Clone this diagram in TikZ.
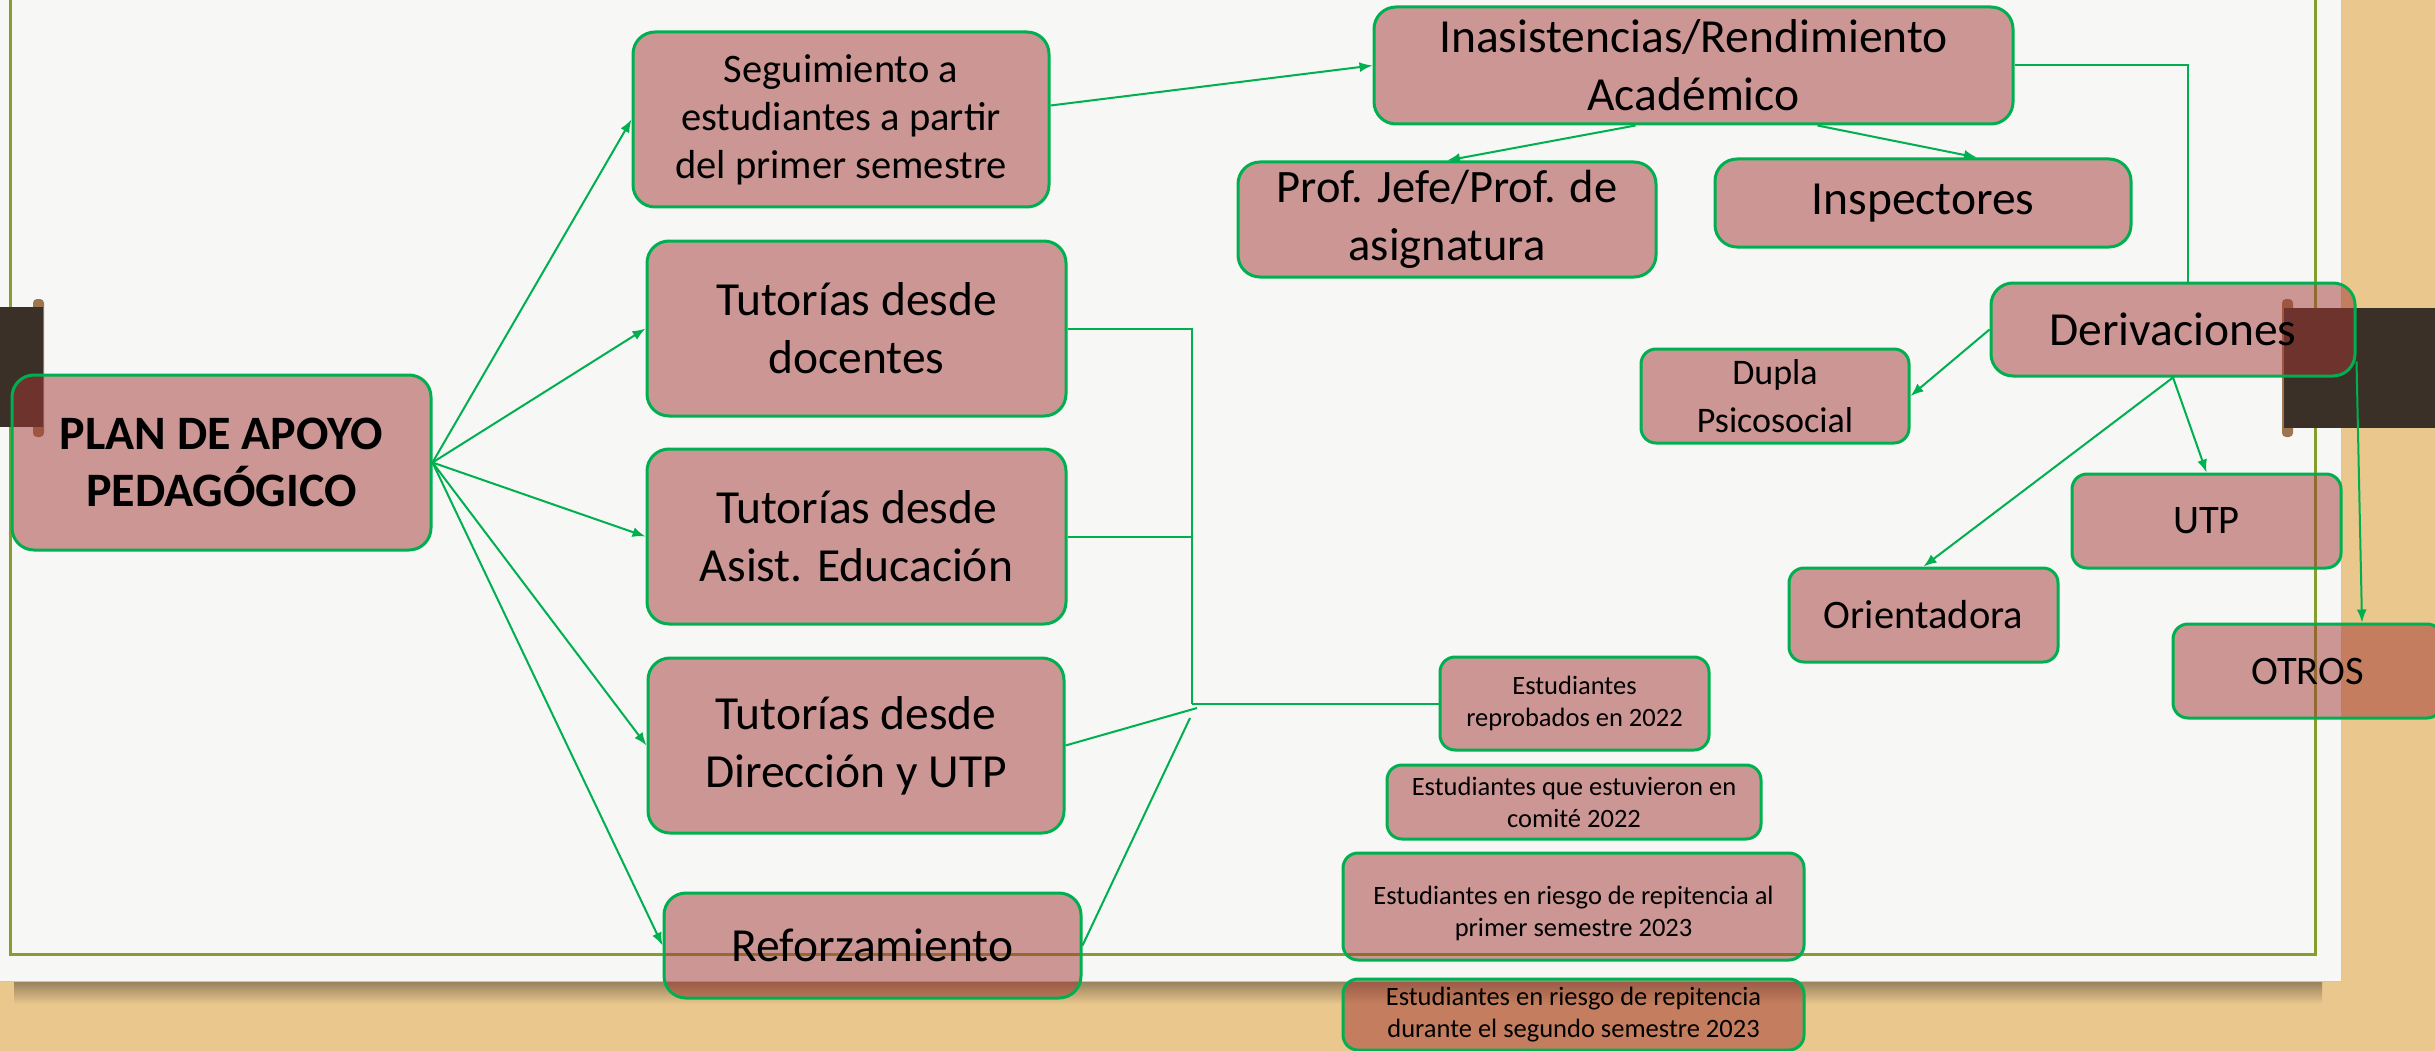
\documentclass[tikz,border=0pt]{standalone}
\usepackage{fontspec}
\setmainfont{Carlito}
\usetikzlibrary{arrows.meta,calc}
\definecolor{wood}{RGB}{233,199,141}
\definecolor{paper}{RGB}{247,247,246}
\definecolor{frameol}{RGB}{134,158,46}
\definecolor{gline}{RGB}{0,176,80}
\definecolor{boxfill}{RGB}{161,55,50}
\definecolor{tabdark}{RGB}{58,48,39}
\definecolor{tabcap}{RGB}{156,118,80}
\definecolor{shadowc}{RGB}{150,128,92}
\begin{document}
\begin{tikzpicture}[x=1pt,y=-1pt,
  box/.style={draw=gline, line width=3pt, fill=boxfill, fill opacity=0.5, text opacity=1,
    rounded corners=22pt, inner sep=0pt, align=center, text=black},
  sbox/.style={box, rounded corners=15pt},
  big/.style={font=\fontsize{47.5}{58}\selectfont},
  mid/.style={font=\fontsize{40.5}{48}\selectfont},
  small/.style={font=\fontsize{26.5}{32}\selectfont},
  conn/.style={draw=gline, line width=2pt},
  arr/.style={conn, -{Latex[length=13pt,width=10pt]}}
]
\useasboundingbox (0,0) rectangle (2435,1051);
\clip (0,0) rectangle (2435,1051);
% background
\fill[wood] (0,0) rectangle (2435,1051);
\shade[top color=shadowc, bottom color=wood] (14,981) rectangle (2322,1004);
\fill[paper] (0,-2) rectangle (2341,981);
\draw[black!22, line width=1pt] (0,981) -- (2341,981) -- (2341,-2);
\draw[frameol, line width=3pt] (10,-5) -- (10,954) -- (2315,954) -- (2315,-5);
% binder tabs
\fill[tabcap, rounded corners=4pt] (33,299) rectangle (44,437);
\fill[tabdark] (0,307) rectangle (43,427);
\fill[tabcap, rounded corners=4pt] (2282,299) rectangle (2293,437);
\fill[tabdark] (2284,308) rectangle (2435,428);

% nodes
\node[box, font=\fontsize{48}{57}\selectfont\bfseries, minimum width=419pt, minimum height=175pt] (plan) at (221.5,462.5) {PLAN DE APOYO\\PEDAGÓGICO};
\node[box, mid, minimum width=416pt, minimum height=175pt] (seg) at (841,119.5) {Seguimiento a\\estudiantes a partir\\del primer semestre};
\node[box, big, minimum width=419pt, minimum height=175pt] (doc) at (856.5,328.5) {Tutorías desde\\docentes};
\node[box, big, minimum width=419pt, minimum height=175pt] (asi) at (856.5,536.5) {Tutorías desde\\Asist. Educación};
\node[box, big, minimum width=416pt, minimum height=175pt] (dir) at (856,745.5) {Tutorías desde\\Dirección y UTP};
\node[box, big, minimum width=417pt, minimum height=105pt] (ref) at (872.5,945.5) {Reforzamiento};
\node[box, big, minimum width=639pt, minimum height=117pt] (ina) at (1693.5,65.5) {Inasistencias/Rendimiento\\Académico};
\node[box, font=\fontsize{46.5}{58}\selectfont, minimum width=418pt, minimum height=115pt] (prof) at (1447,219.5) {Prof. Jefe/Prof. de\\asignatura};
\node[box, big, minimum width=416pt, minimum height=88pt] (insp) at (1923,203) {Inspectores};
\node[box, big, minimum width=364pt, minimum height=93pt] (der) at (2173,329.5) {Derivaciones};
\node[sbox, font=\fontsize{36}{48}\selectfont, minimum width=268pt, minimum height=94pt] (dup) at (1775,396) {Dupla\\Psicosocial};
\node[sbox, mid, minimum width=269pt, minimum height=94pt] (utp) at (2206.5,521) {UTP};
\node[sbox, mid, minimum width=269pt, minimum height=94pt] (ori) at (1923.5,615) {Orientadora};
\node[sbox, mid, minimum width=269pt, minimum height=94pt] (otr) at (2307.5,671) {OTROS};
\node[sbox, small, minimum width=269pt, minimum height=93pt] (e1) at (1574.5,703.5) {Estudiantes\\reprobados en 2022};
\node[sbox, small, minimum width=374pt, minimum height=74pt] (e2) at (1574,802) {Estudiantes que estuvieron en\\comité 2022};
\node[sbox, small, minimum width=461pt, minimum height=107pt] (e3) at (1573.5,906.5) {\mbox{}\\Estudiantes en riesgo de repitencia al\\primer semestre 2023};
\node[sbox, small, minimum width=461pt, minimum height=71pt] (e4) at (1573.5,1014.5) {Estudiantes en riesgo de repitencia\\durante el segundo semestre 2023};

% connectors from plan
\draw[arr] (plan.east) -- (seg.west);
\draw[arr] (plan.east) -- (doc.west);
\draw[arr] (plan.east) -- (asi.west);
\draw[arr] (plan.east) -- (dir.west);
\draw[arr] (plan.east) -- (ref.west);
% seguimiento branch
\draw[arr] ([yshift=14pt]seg.east) -- (ina.west);
\draw[arr] ([xshift=-58pt]ina.south) -- (prof.north);
\draw[arr] ([xshift=124pt]ina.south) -- ([xshift=54pt]insp.north);
\draw[conn] (ina.east) -| ([xshift=15pt]der.north);
% derivaciones
\draw[arr] (der.west) -- (dup.east);
\draw[arr] (der.south) -- (utp.north);
\draw[arr] (der.south) -- (ori.north);
\draw[arr] ([yshift=-32pt]der.east) -- ([xshift=54.5pt]otr.north);
% tutorias junction
\coordinate (J) at (1192,704);
\coordinate (K) at (1197,708);
\coordinate (L) at (1190,718);
\draw[conn] (doc.east) -- (doc.east -| J) -- (J);
\draw[conn] (asi.east) -- (asi.east -| J);
\draw[conn] (J) -- (J -| e1.west);
\draw[conn] (dir.east) -- (K);
\draw[conn] (ref.east) -- (L);
\end{tikzpicture}
\end{document}
